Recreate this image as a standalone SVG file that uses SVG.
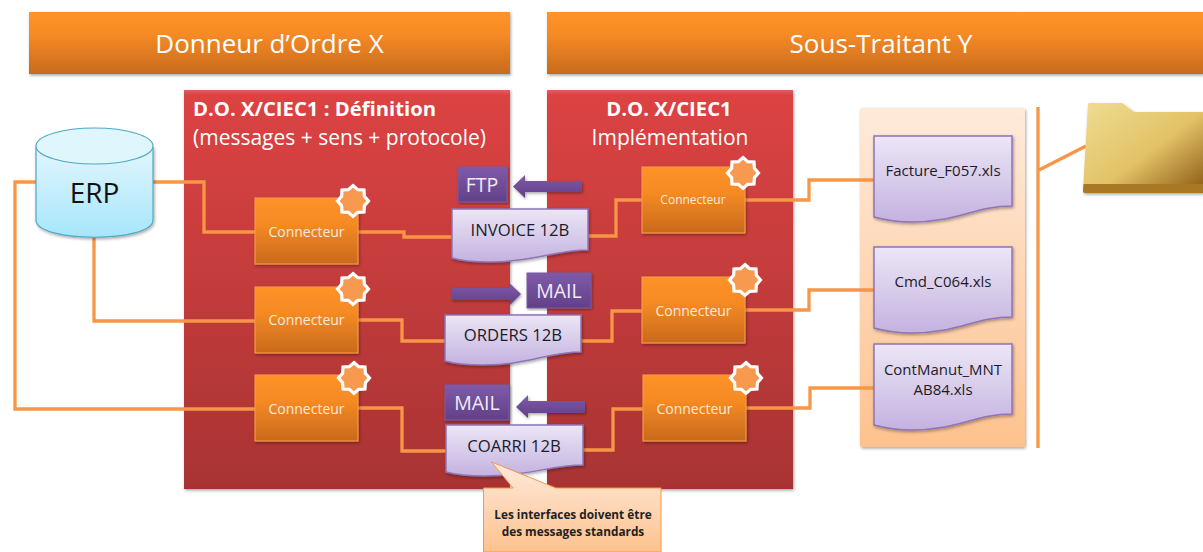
<svg xmlns="http://www.w3.org/2000/svg" width="1203" height="552" viewBox="0 0 1203 552">
<defs>
<linearGradient id="hdr" x1="0" y1="0" x2="0" y2="1"><stop offset="0" stop-color="#ff942a"/><stop offset="0.35" stop-color="#f68b26"/><stop offset="1" stop-color="#c96a1c"/></linearGradient>
<linearGradient id="red" x1="0" y1="0" x2="0" y2="1"><stop offset="0" stop-color="#e46060"/><stop offset="0.012" stop-color="#dc4343"/><stop offset="1" stop-color="#a83333"/></linearGradient>
<linearGradient id="con" x1="0" y1="0" x2="0" y2="1"><stop offset="0" stop-color="#ff9228"/><stop offset="0.4" stop-color="#f58a24"/><stop offset="1" stop-color="#c8691c"/></linearGradient>
<linearGradient id="pur" x1="0" y1="0" x2="0" y2="1"><stop offset="0" stop-color="#7f5aa8"/><stop offset="1" stop-color="#624088"/></linearGradient>
<linearGradient id="doc" x1="0" y1="0" x2="0" y2="1"><stop offset="0" stop-color="#ece6f6"/><stop offset="1" stop-color="#c4b2e0"/></linearGradient>
<linearGradient id="cyl" x1="0" y1="0" x2="0" y2="1"><stop offset="0" stop-color="#e2f6fd"/><stop offset="1" stop-color="#a6e6fc"/></linearGradient>
<linearGradient id="pan" x1="0" y1="0" x2="0" y2="1"><stop offset="0" stop-color="#feeadb"/><stop offset="1" stop-color="#fdc28e"/></linearGradient>
<linearGradient id="fld" x1="0" y1="0" x2="1" y2="1"><stop offset="0" stop-color="#efdc92"/><stop offset="0.55" stop-color="#e2c266"/><stop offset="1" stop-color="#8a5712"/></linearGradient>
<filter id="sh" x="-5%" y="-5%" width="110%" height="112%"><feDropShadow dx="1" dy="1.5" stdDeviation="1.5" flood-color="#000" flood-opacity="0.35"/></filter>
<path id="star" d="M0,-15.500 L4.7,-11.400 L11,-11 L11.400,-4.7 L15.500,0 L11.400,4.7 L11,11 L4.7,11.400 L0,15.500 L-4.7,11.400 L-11,11 L-11.400,4.7 L-15.500,0 L-11.400,-4.7 L-11,-11 L-4.7,-11.400 Z" fill="#f79a50" stroke="#fff" stroke-width="3.2" stroke-linejoin="miter"/>
</defs>
<style>
text{font-family:"Open Sans","Noto Sans","Liberation Sans",sans-serif;text-anchor:middle}
.hdr{fill:url(#hdr);filter:url(#sh)}
.hdt{fill:#fff;font-size:26px}
.red{fill:url(#red);filter:url(#sh)}
.ti{fill:#fff;font-size:20.3px}
.ti2{fill:#fff;font-size:21px}
.b{font-weight:700}
.c{fill:url(#con);stroke:#f79646;stroke-width:1.2;filter:url(#sh)}
.ct{fill:#fde9d9;font-size:12px}
.ctb{fill:#fde9d9;font-size:14px}
.p{fill:url(#pur);stroke:#7a5aa6;stroke-width:1;filter:url(#sh)}
.pt{fill:#f0ecf6;font-size:19.500px}
.ar{fill:url(#pur);filter:url(#sh)}
.d{fill:url(#doc);stroke:#8f74b8;stroke-width:1.5;filter:url(#sh)}
.dt{fill:#1c1c28;font-size:16.7px}
.ft{fill:#1c1c28;font-size:15px}
.ln{fill:none;stroke:#f79646;stroke-width:3.3}
</style>
<rect width="1203" height="552" fill="#fff"/>
<g id="header-x"><rect class="hdr" x="29" y="12" width="481" height="62"/><text class="hdt" x="269.500" y="53">Donneur d’Ordre X</text></g>
<g id="header-y"><rect class="hdr" x="547" y="12" width="656" height="62"/><text class="hdt" x="881" y="53">Sous-Traitant Y</text></g>
<g id="panel-def"><rect class="red" x="184" y="90" width="326" height="399"/><text class="ti b" x="193" y="116" style="text-anchor:start">D.O. X/CIEC1 : Définition</text><text class="ti2" x="193" y="145" style="text-anchor:start">(messages + sens + protocole)</text></g>
<g id="panel-impl"><rect class="red" x="547" y="90" width="246" height="399"/><text class="ti b" x="669" y="116">D.O. X/CIEC1</text><text class="ti2" x="670" y="145">Implémentation</text></g>
<g id="panel-files"><rect x="860" y="108" width="165" height="339" rx="2" fill="url(#pan)" filter="url(#sh)"/></g>
<g id="connectors">
<path class="ln" d="M153,182 H204 V232 H255"/>
<path class="ln" d="M36,182 H15 V409 H255"/>
<path class="ln" d="M94,237 V321 H255"/>
<path class="ln" d="M358,232 H404 V237 H452"/>
<path class="ln" d="M358,320 H402 V341 H445"/>
<path class="ln" d="M358,408 H402 V451 H446"/>
<path class="ln" d="M588,236 H616 V200 H642"/>
<path class="ln" d="M581,341 H612 V311 H642"/>
<path class="ln" d="M583,450 H613 V409 H643"/>
<path class="ln" d="M745,200 H809 V180 H874"/>
<path class="ln" d="M745,310 H809 V290 H874"/>
<path class="ln" d="M746,408 H810 V388 H874"/>
<path class="ln" d="M1038,107 V448"/>
<path class="ln" d="M1039,170 L1086,146"/>
</g>
<g id="erp"><path d="M36,147 V220 C36,243 153,243 153,220 V147 Z" fill="url(#cyl)" stroke="#4fa8c4" stroke-width="1.2" filter="url(#sh)"/><ellipse cx="94.500" cy="146" rx="58.500" ry="18" fill="#e0f6fd" stroke="#4fa8c4" stroke-width="1.2"/><text x="94.500" y="203" font-size="28" fill="#111">ERP</text></g>
<g id="conn1"><rect class="c" x="255" y="198" width="103" height="66"/><text class="ctb" x="306.500" y="237">Connecteur</text><use href="#star" x="353" y="201"/></g>
<g id="conn2"><rect class="c" x="255" y="287" width="103" height="66"/><text class="ctb" x="306.500" y="325">Connecteur</text><use href="#star" x="353" y="289"/></g>
<g id="conn3"><rect class="c" x="255" y="375" width="103" height="66"/><text class="ctb" x="306.500" y="414">Connecteur</text><use href="#star" x="354" y="378"/></g>
<g id="conn4"><rect class="c" x="642" y="167" width="103" height="66"/><text class="ct" x="693" y="204">Connecteur</text><use href="#star" x="743" y="173"/></g>
<g id="conn5"><rect class="c" x="642" y="277" width="103" height="66"/><text class="ctb" x="693.500" y="316">Connecteur</text><use href="#star" x="745" y="280"/></g>
<g id="conn6"><rect class="c" x="643" y="375" width="103" height="66"/><text class="ctb" x="694.500" y="414">Connecteur</text><use href="#star" x="746" y="378"/></g>
<g id="ftp"><rect class="p" x="458" y="167" width="49" height="35"/><text class="pt" x="482" y="192">FTP</text></g>
<g id="arrow-ftp"><path class="ar" d="M582,181 H525 V175 L513,186.500 L525,198 V192 H582 Z"/></g>
<g id="mail1"><rect class="p" x="527" y="273" width="64" height="35"/><text class="pt" x="559" y="298">MAIL</text></g>
<g id="arrow-mail1"><path class="ar" d="M452,288 H510 V283.500 L521,294 L510,305 V300 H452 Z"/></g>
<g id="mail2"><rect class="p" x="445" y="385" width="64" height="35"/><text class="pt" x="477" y="410">MAIL</text></g>
<g id="arrow-mail2"><path class="ar" d="M585,401 H528 V395 L516,407 L528,418 V413 H585 Z"/></g>
<g id="invoice"><path class="d" d="M452,209 H588 V250 C555,250 535,262 490,262 C472,262 462,261 452,258 Z"/><text class="dt" x="520" y="236">INVOICE 12B</text></g>
<g id="orders"><path class="d" d="M445,315 H581 V352 C548,352 528,365 483,365 C465,365 455,364 445,361 Z"/><text class="dt" x="513" y="341">ORDERS 12B</text></g>
<g id="coarri"><path class="d" d="M446,425 H583 V465 C550,465 530,476 485,476 C467,476 457,475 446,472 Z"/><text class="dt" x="514" y="452">COARRI 12B</text></g>
<g id="f1"><path class="d" d="M874,136 H1012 V206 C975,206 957,222 912,222 C895,222 885,220 874,217 Z"/><text class="ft" x="943" y="176">Facture_F057.xls</text></g>
<g id="f2"><path class="d" d="M874,247 H1012 V317 C975,317 957,333 912,333 C895,333 885,331 874,328 Z"/><text class="ft" x="943" y="287">Cmd_C064.xls</text></g>
<g id="f3"><path class="d" d="M874,344 H1012 V414 C975,414 957,430 912,430 C895,430 885,428 874,425 Z"/><text class="ft" x="943" y="375">ContManut_MNT</text><text class="ft" x="943" y="395">AB84.xls</text></g>
<g id="folder"><path d="M1088,104 Q1088,103 1090,103 H1122 L1134,112 H1203 V193 H1084 Q1083,193 1083,191 Z" fill="url(#fld)" filter="url(#sh)"/><path d="M1083.500,184 H1203 V193 H1085 Q1083,193 1083,191 Z" fill="#a87825"/></g>
<g id="callout"><path d="M483.500,488 H513 L491.500,462 L556,488 H661 V552 H483.500 Z" fill="url(#pan)" stroke="#f79646" stroke-width="1"/><text x="573" y="519" font-size="11.800" font-weight="700" fill="#222">Les interfaces doivent être</text><text x="573" y="536" font-size="11.800" font-weight="700" fill="#222">des messages standards</text></g>
</svg>
